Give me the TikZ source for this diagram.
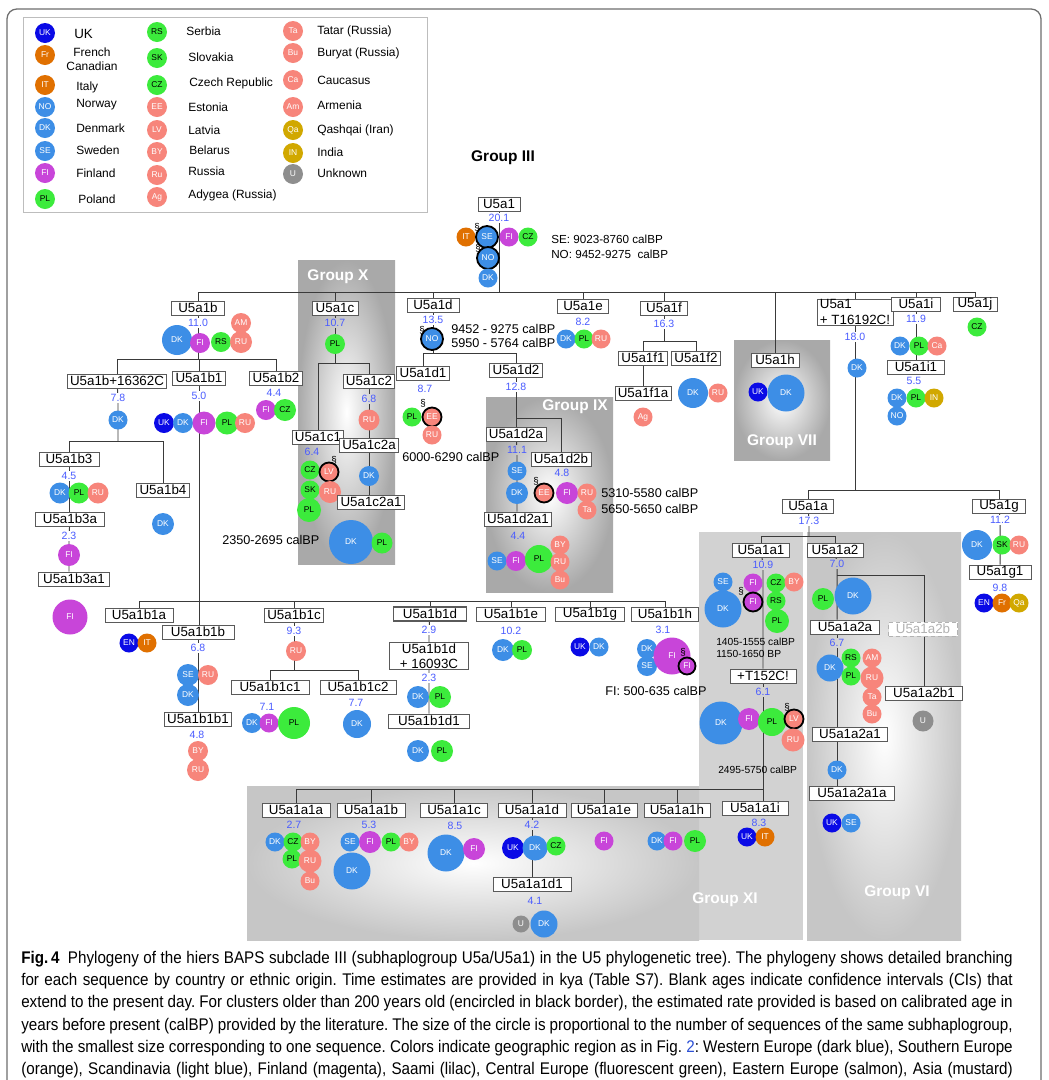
\documentclass[tikz,border=0pt]{standalone}
\usepackage{fontspec}
\setmainfont{Liberation Sans}
\newfontfamily\capfont[FakeStretch=0.90]{Liberation Sans}
\usepackage{xcolor}
\usepackage{tikz}
\definecolor{cWest}{HTML}{0A0AE6}
\definecolor{cSouth}{HTML}{E07000}
\definecolor{cScand}{HTML}{3D8EE6}
\definecolor{cFinn}{HTML}{C845D9}
\definecolor{cCentral}{HTML}{3CEB3C}
\definecolor{cEast}{HTML}{F7857B}
\definecolor{cAsia}{HTML}{D1A800}
\definecolor{cUnk}{HTML}{8E8E8E}
\definecolor{ageBlue}{HTML}{4A5CFF}
\definecolor{linkBlue}{HTML}{2B4FD6}
\definecolor{treeLine}{HTML}{3A3A3A}
\definecolor{boxLine}{HTML}{5A5A5A}
\definecolor{legendLine}{HTML}{BDBDBD}
\definecolor{frameGray}{HTML}{6E6E6E}
\definecolor{grpGray}{HTML}{A9A9A9}
\definecolor{grpLight}{HTML}{C6C6C6}
\definecolor{grpMid}{HTML}{D2D2D2}
\usetikzlibrary{positioning}
\pgfdeclarelayer{shade}
\pgfdeclarelayer{lines}
\pgfsetlayers{shade,lines,main}

\begin{document}
\begin{tikzpicture}[
  x=0.025cm, y=-0.025cm,
  treeline/.style={draw=treeLine, line width=0.7pt},
  hbox/.style={draw=boxLine, fill=white, line width=0.5pt, inner xsep=2pt, inner ysep=0.5pt, minimum height=0.35cm, font=\fontsize{9.5}{10.5}\selectfont},
  boxw/.style={minimum width=#1*0.025cm},
  age/.style={text=ageBlue, inner sep=0.8pt, font=\fontsize{7.5}{8}\selectfont},
  ctry/.style={circle, inner sep=0pt, minimum size=0.475cm, text=white, font=\fontsize{6}{6}\selectfont},
  dia/.style={minimum size=#1*0.025cm},
  westeu/.style={ctry, fill=cWest},
  southeu/.style={ctry, fill=cSouth},
  scand/.style={ctry, fill=cScand},
  finn/.style={ctry, fill=cFinn},
  centeu/.style={ctry, fill=cCentral, text=black},
  easteu/.style={ctry, fill=cEast},
  asia/.style={ctry, fill=cAsia},
  unkn/.style={ctry, fill=cUnk},
  old/.style={draw=black, line width=1.3pt},
  sectmark/.style={inner sep=0pt, font=\fontsize{7}{7}\selectfont},
  calnote/.style={anchor=west, inner sep=0pt, font=\fontsize{9}{10}\selectfont},
  smallnote/.style={anchor=west, inner sep=0pt, font=\fontsize{7.3}{8}\selectfont},
  grouplabel/.style={text=white, font=\bfseries\fontsize{11}{12}\selectfont},
  legtext/.style={anchor=west, inner sep=0pt, font=\fontsize{8.5}{10}\selectfont}
]
\useasboundingbox (0,0) rectangle (1048,1080);

% Legend
\node[westeu, dia=20] (leg-uk) at (45,33) {UK};
\node[legtext, font=\fontsize{9.5}{10}\selectfont] (leg-uk-t) at (74,34) {UK};
\node[southeu, dia=20] (leg-fr) at (45,55) {Fr};
\node[legtext, anchor=center, align=center] (leg-fr-t) at (92,59) {French\\Canadian};
\node[southeu, dia=20] (leg-it) at (45,85) {IT};
\node[legtext] (leg-it-t) at (76,87) {Italy};
\node[scand, dia=20] (leg-no) at (45,107) {NO};
\node[legtext] (leg-no-t) at (76,105) {Norway};
\node[scand, dia=20] (leg-dk) at (45,128) {DK};
\node[legtext] (leg-dk-t) at (76,128) {Denmark};
\node[scand, dia=20] (leg-se) at (45,151) {SE};
\node[legtext] (leg-se-t) at (76,150) {Sweden};
\node[finn, dia=20] (leg-fi) at (45,173) {FI};
\node[legtext] (leg-fi-t) at (76,173) {Finland};
\node[centeu, dia=20] (leg-pl) at (45,199) {PL};
\node[legtext] (leg-pl-t) at (78,199) {Poland};
\node[centeu, dia=20] (leg-rs) at (157,32) {RS};
\node[legtext] (leg-rs-t) at (186,31) {Serbia};
\node[centeu, dia=20] (leg-sk) at (157,58) {SK};
\node[legtext] (leg-sk-t) at (188,57) {Slovakia};
\node[centeu, dia=20] (leg-cz) at (157,85) {CZ};
\node[legtext] (leg-cz-t) at (189,83) {Czech Republic};
\node[easteu, dia=20] (leg-ee) at (157,107) {EE};
\node[legtext] (leg-ee-t) at (188,107) {Estonia};
\node[easteu, dia=20] (leg-lv) at (157,130) {LV};
\node[legtext] (leg-lv-t) at (188,130) {Latvia};
\node[easteu, dia=20] (leg-by) at (157,152) {BY};
\node[legtext] (leg-by-t) at (189,150) {Belarus};
\node[easteu, dia=20] (leg-ru) at (157,175) {Ru};
\node[legtext] (leg-ru-t) at (188,171) {Russia};
\node[easteu, dia=20] (leg-ag) at (157,197) {Ag};
\node[legtext] (leg-ag-t) at (188,195) {Adygea (Russia)};
\node[easteu, dia=20] (leg-ta) at (293,31) {Ta};
\node[legtext] (leg-ta-t) at (317,31) {Tatar (Russia)};
\node[easteu, dia=20] (leg-bu) at (293,53) {Bu};
\node[legtext] (leg-bu-t) at (317,53) {Buryat (Russia)};
\node[easteu, dia=20] (leg-ca) at (293,80) {Ca};
\node[legtext] (leg-ca-t) at (317,80) {Caucasus};
\node[easteu, dia=20] (leg-am) at (293,107) {Am};
\node[legtext] (leg-am-t) at (317,105) {Armenia};
\node[asia, dia=20] (leg-qa) at (293,130) {Qa};
\node[legtext] (leg-qa-t) at (317,130) {Qashqai (Iran)};
\node[asia, dia=20] (leg-in) at (293,153) {IN};
\node[legtext] (leg-in-t) at (317,152) {India};
\node[unkn, dia=20] (leg-u) at (293,174) {U};
\node[legtext] (leg-u-t) at (317,173) {Unknown};

% Root U5a1
\node[font=\bfseries\fontsize{11}{12}\selectfont] (title) at (503,158) {Group III};
\node[hbox, boxw=42] (u5a1) at (499,204) {U5a1};
\node[age] (u5a1-age) at (499,218) {20.1};
\node[southeu] (u5a1-it) at (466,237) {IT};
\node[scand, old, dia=22] (u5a1-se) at (487,237) {SE};
\node[sectmark] (u5a1-s1) at (477,227) {\S};
\node[finn] (u5a1-fi) at (509,237) {FI};
\node[centeu] (u5a1-cz) at (528,237) {CZ};
\node[scand, old, dia=22] (u5a1-no) at (488,258) {NO};
\node[sectmark] (u5a1-s2) at (478,248) {\S};
\node[scand] (u5a1-dk) at (488,278) {DK};
\node[calnote, font=\fontsize{8.3}{9}\selectfont] (u5a1-se-t) at (551,239) {SE: 9023-8760 calBP};
\node[calnote, font=\fontsize{8.3}{9}\selectfont] (u5a1-no-t) at (551,254) {NO: 9452-9275\ \ calBP};
\coordinate (bar1) at (0,292);

% First level subclades
\node[hbox, boxw=53] (u5a1b) at (198,308) {U5a1b};
\node[hbox, boxw=46] (u5a1c) at (335,308) {U5a1c};
\node[hbox, boxw=52] (u5a1d) at (433,305) {U5a1d};
\node[hbox, boxw=51] (u5a1e) at (583,306) {U5a1e};
\node[hbox, boxw=47] (u5a1f) at (664,308) {U5a1f};
\node[hbox, boxw=48] (u5a1h) at (775,360) {U5a1h};
\node[hbox, boxw=73, align=left, font=\fontsize{9.5}{11}\selectfont] (u5a1T) at (855,312) {U5a1\\+ T16192C!};
\node[hbox, boxw=49] (u5a1i) at (916,304) {U5a1i};
\node[hbox, boxw=44] (u5a1j) at (975,304) {U5a1j};

% U5a1b
\node[age] (u5a1b-age) at (198,323) {11.0};
\node[scand, dia=30] (u5a1b-dk) at (177,340) {DK};
\node[finn, dia=20] (u5a1b-fi) at (200,343) {FI};
\node[centeu, dia=20] (u5a1b-rs) at (221,342) {RS};
\node[easteu, dia=20] (u5a1b-am) at (241,323) {AM};
\node[easteu, dia=22] (u5a1b-ru) at (241,342) {RU};
\coordinate (bar2) at (0,359);
\node[hbox, boxw=92] (u5a1bX) at (117,381) {U5a1b+16362C};
\node[age] (u5a1bX-age) at (118,398) {7.8};
\node[scand] (u5a1bX-dk) at (118,420) {DK};
\coordinate (bar3) at (0,441);
\node[hbox, boxw=60] (u5a1b3) at (69,459) {U5a1b3};
\node[age] (u5a1b3-age) at (69,476) {4.5};
\node[scand, dia=21] (u5a1b3-dk) at (60,493) {DK};
\node[centeu, dia=21] (u5a1b3-pl) at (79,493) {PL};
\node[easteu, dia=21] (u5a1b3-ru) at (98,493) {RU};
\node[hbox, boxw=69] (u5a1b3a) at (70,519) {U5a1b3a};
\node[age] (u5a1b3a-age) at (69,536) {2.3};
\node[finn, dia=22] (u5a1b3a-fi) at (69,555) {FI};
\node[hbox, boxw=71] (u5a1b3a1) at (74,579) {U5a1b3a1};
\node[finn, dia=35] (u5a1b3a1-fi) at (70,617) {FI};
\node[hbox, boxw=47] (u5a1b4) at (163,490) {U5a1b4};
\node[scand, dia=22] (u5a1b4-dk) at (163,524) {DK};
\node[hbox, boxw=47] (u5a1b1) at (199,378) {U5a1b1};
\node[age] (u5a1b1-age) at (199,396) {5.0};
\node[westeu, dia=20] (u5a1b1-uk) at (164,423) {UK};
\node[scand, dia=20] (u5a1b1-dk) at (183,423) {DK};
\node[finn, dia=23] (u5a1b1-fi) at (204,423) {FI};
\node[centeu, dia=23] (u5a1b1-pl) at (227,423) {PL};
\node[easteu, dia=20] (u5a1b1-ru) at (245,423) {RU};
\node[hbox, boxw=45] (u5a1b2) at (276,378) {U5a1b2};
\node[age] (u5a1b2-age) at (274,393) {4.4};
\node[finn, dia=20] (u5a1b2-fi) at (266,410) {FI};
\node[centeu, dia=22] (u5a1b2-cz) at (285,410) {CZ};

% U5a1b1 subclades
\coordinate (bar4) at (0,601);
\node[hbox, boxw=68] (u5a1b1a) at (139,615) {U5a1b1a};
\node[westeu] (u5a1b1a-en) at (129,643) {EN};
\node[southeu] (u5a1b1a-it) at (147,643) {IT};
\node[hbox, boxw=72] (u5a1b1b) at (198,632) {U5a1b1b};
\node[age] (u5a1b1b-age) at (198,648) {6.8};
\node[scand, dia=22] (u5a1b1b-se) at (188,675) {SE};
\node[easteu, dia=20] (u5a1b1b-ru) at (208,675) {RU};
\node[scand, dia=22] (u5a1b1b-dk) at (188,695) {DK};
\node[hbox, boxw=63] (u5a1b1b1) at (198,719) {U5a1b1b1};
\node[age] (u5a1b1b1-age) at (197,735) {4.8};
\node[easteu, dia=20] (u5a1b1b1-by) at (198,751) {BY};
\node[easteu, dia=22] (u5a1b1b1-ru) at (198,770) {RU};
\node[hbox, boxw=51] (u5a1b1c) at (294,615) {U5a1b1c};
\node[age] (u5a1b1c-age) at (294,631) {9.3};
\node[easteu, dia=20] (u5a1b1c-ru) at (296,651) {RU};
\coordinate (bar5) at (0,670);
\node[hbox, boxw=78] (u5a1b1c1) at (270,687) {U5a1b1c1};
\node[age] (u5a1b1c1-age) at (267,707) {7.1};
\node[scand, dia=20] (u5a1b1c1-dk) at (252,723) {DK};
\node[finn, dia=19] (u5a1b1c1-fi) at (269,723) {FI};
\node[centeu, dia=32] (u5a1b1c1-pl) at (294,723) {PL};
\node[hbox, boxw=76] (u5a1b1c2) at (358,687) {U5a1b1c2};
\node[age] (u5a1b1c2-age) at (356,703) {7.7};
\node[scand, dia=28] (u5a1b1c2-dk) at (357,724) {DK};
\node[hbox, boxw=73, line width=0.8pt] (u5a1b1d) at (430,614) {U5a1b1d};
\node[age] (u5a1b1d-age) at (429,630) {2.9};
\node[hbox, boxw=79, align=center, font=\fontsize{9.5}{11}\selectfont] (u5a1b1dX) at (429,656) {U5a1b1d\\+ 16093C};
\node[age] (u5a1b1dX-age) at (429,678) {2.3};
\node[scand, dia=22] (u5a1b1dX-dk) at (418,697) {DK};
\node[centeu, dia=22] (u5a1b1dX-pl) at (440,697) {PL};
\node[hbox, boxw=81] (u5a1b1d1) at (429,721) {U5a1b1d1};
\node[scand, dia=22] (u5a1b1d1-dk) at (418,751) {DK};
\node[centeu, dia=22] (u5a1b1d1-pl) at (442,751) {PL};
\node[hbox, boxw=69] (u5a1b1e) at (511,614) {U5a1b1e};
\node[age] (u5a1b1e-age) at (511,631) {10.2};
\node[scand, dia=22] (u5a1b1e-dk) at (503,650) {DK};
\node[centeu, dia=20] (u5a1b1e-pl) at (522,650) {PL};
\node[hbox, boxw=69] (u5a1b1g) at (590,614) {U5a1b1g};
\node[westeu] (u5a1b1g-uk) at (580,647) {UK};
\node[scand] (u5a1b1g-dk) at (599,647) {DK};
\node[hbox, boxw=67] (u5a1b1h) at (665,614) {U5a1b1h};
\node[age] (u5a1b1h-age) at (663,630) {3.1};
\node[scand, dia=20] (u5a1b1h-dk) at (647,649) {DK};
\node[scand, dia=20] (u5a1b1h-se) at (647,666) {SE};
\node[finn, dia=37] (u5a1b1h-fi) at (672,656) {FI};
\node[finn, old, dia=17] (u5a1b1h-fi2) at (687,666) {FI};
\node[sectmark] (u5a1b1h-s) at (683,652) {\S};
\node[calnote] (u5a1b1h-t) at (605,691) {FI: 500-635 calBP};

% U5a1c (Group X)
\node[age] (u5a1c-age) at (335,323) {10.7};
\node[centeu, dia=20] (u5a1c-pl) at (335,344) {PL};
\coordinate (bar6) at (0,363);
\node[hbox, boxw=45] (u5a1c1) at (318,437) {U5a1c1};
\node[age] (u5a1c1-age) at (312,452) {6.4};
\node[centeu] (u5a1c1-cz) at (310,470) {CZ};
\node[easteu, old] (u5a1c1-lv) at (329,472) {LV};
\node[sectmark] (u5a1c1-s) at (334,460) {\S};
\node[centeu] (u5a1c1-sk) at (310,490) {SK};
\node[easteu, dia=22] (u5a1c1-ru) at (330,492) {RU};
\node[centeu, dia=24] (u5a1c1-pl) at (309,510) {PL};
\node[calnote] (u5a1c1-t) at (222,540) {2350-2695 calBP};
\node[hbox, boxw=45] (u5a1c2) at (369,381) {U5a1c2};
\node[age] (u5a1c2-age) at (369,399) {6.8};
\node[easteu, dia=21] (u5a1c2-ru) at (369,420) {RU};
\node[hbox, boxw=51] (u5a1c2a) at (369,445) {U5a1c2a};
\node[scand, dia=20] (u5a1c2a-dk) at (369,476) {DK};
\node[hbox, boxw=59] (u5a1c2a1) at (371,502) {U5a1c2a1};
\node[scand, dia=44] (u5a1c2a1-dk) at (351,542) {DK};
\node[centeu, dia=21] (u5a1c2a1-pl) at (382,543) {PL};

% U5a1d
\node[age] (u5a1d-age) at (433,320) {13.5};
\node[scand, old, dia=22] (u5a1d-no) at (432,339) {NO};
\node[sectmark] (u5a1d-s) at (422,330) {\S};
\node[calnote] (u5a1d-t1) at (451,329) {9452 - 9275 calBP};
\node[calnote] (u5a1d-t2) at (451,343) {5950 - 5764 calBP};
\coordinate (bar7) at (0,353);
\node[hbox, boxw=50] (u5a1d1) at (423,373) {U5a1d1};
\node[age] (u5a1d1-age) at (425,389) {8.7};
\node[centeu] (u5a1d1-pl) at (412,417) {PL};
\node[easteu, old] (u5a1d1-ee) at (432,417) {EE};
\node[sectmark] (u5a1d1-s) at (423,403) {\S};
\node[easteu] (u5a1d1-ru) at (432,435) {RU};
\node[calnote] (u5a1d1-t) at (402,457) {6000-6290 calBP};
\node[hbox, boxw=48] (u5a1d2) at (516,370) {U5a1d2};
\node[age] (u5a1d2-age) at (516,387) {12.8};
\coordinate (bar8) at (0,418);
\node[hbox, boxw=50] (u5a1d2a) at (516,434) {U5a1d2a};
\node[age] (u5a1d2a-age) at (517,450) {11.1};
\node[scand] (u5a1d2a-se) at (517,471) {SE};
\node[scand, dia=22] (u5a1d2a-dk) at (517,493) {DK};
\node[hbox, boxw=56] (u5a1d2a1) at (518,519) {U5a1d2a1};
\node[age] (u5a1d2a1-age) at (518,536) {4.4};
\node[scand] (u5a1d2a1-se) at (497,561) {SE};
\node[finn, dia=20] (u5a1d2a1-fi) at (516,561) {FI};
\node[centeu, dia=28] (u5a1d2a1-pl) at (539,559) {PL};
\node[easteu] (u5a1d2a1-by) at (560,545) {BY};
\node[easteu] (u5a1d2a1-ru) at (560,562) {RU};
\node[easteu] (u5a1d2a1-bu) at (560,580) {Bu};
\node[hbox, boxw=50] (u5a1d2b) at (561,459) {U5a1d2b};
\node[age] (u5a1d2b-age) at (562,473) {4.8};
\node[easteu, old] (u5a1d2b-ee) at (544,493) {EE};
\node[sectmark] (u5a1d2b-s) at (536,481) {\S};
\node[finn, dia=22] (u5a1d2b-fi) at (567,493) {FI};
\node[easteu] (u5a1d2b-ru) at (587,493) {RU};
\node[easteu] (u5a1d2b-ta) at (587,510) {Ta};
\node[calnote] (u5a1d2b-t1) at (601,493) {5310-5580 calBP};
\node[calnote] (u5a1d2b-t2) at (601,509) {5650-5650 calBP};

% U5a1e and U5a1f
\node[age] (u5a1e-age) at (583,322) {8.2};
\node[scand] (u5a1e-dk) at (566,339) {DK};
\node[centeu] (u5a1e-pl) at (584,339) {PL};
\node[easteu] (u5a1e-ru) at (601,339) {RU};
\node[age] (u5a1f-age) at (664,324) {16.3};
\coordinate (bar9) at (0,341);
\node[hbox, boxw=48] (u5a1f1) at (643,358) {U5a1f1};
\node[hbox, boxw=45] (u5a1f2) at (696,358) {U5a1f2};
\node[hbox, boxw=47] (u5a1f1a) at (643,393) {U5a1f1a};
\node[easteu] (u5a1f1a-ag) at (643,417) {Ag};
\node[scand, dia=30] (u5a1f2-dk) at (693,393) {DK};
\node[easteu] (u5a1f2-ru) at (718,393) {RU};

% U5a1h (Group VII)
\node[westeu] (u5a1h-uk) at (758,392) {UK};
\node[scand, dia=37] (u5a1h-dk) at (786,393) {DK};

% U5a1+T16192C, U5a1i, U5a1j
\node[age] (u5a1T-age) at (855,337) {18.0};
\node[scand] (u5a1T-dk) at (857,368) {DK};
\coordinate (bar10) at (0,490);
\node[age] (u5a1i-age) at (916,319) {11.9};
\node[scand] (u5a1i-dk) at (900,346) {DK};
\node[centeu] (u5a1i-pl) at (919,346) {PL};
\node[easteu] (u5a1i-ca) at (937,346) {Ca};
\node[hbox, boxw=57] (u5a1i1) at (916,367) {U5a1i1};
\node[age] (u5a1i1-age) at (914,381) {5.5};
\node[scand] (u5a1i1-dk) at (897,398) {DK};
\node[centeu] (u5a1i1-pl) at (916,398) {PL};
\node[asia] (u5a1i1-in) at (934,398) {IN};
\node[scand] (u5a1i1-no) at (897,416) {NO};
\node[centeu] (u5a1j-cz) at (977,327) {CZ};

% U5a1a and U5a1g
\node[hbox, boxw=51] (u5a1a) at (808,506) {U5a1a};
\node[age] (u5a1a-age) at (809,521) {17.3};
\coordinate (bar11) at (0,536);
\node[hbox, boxw=53] (u5a1g) at (999,506) {U5a1g};
\node[age] (u5a1g-age) at (1000,520) {11.2};
\node[scand, dia=30] (u5a1g-dk) at (977,545) {DK};
\node[centeu] (u5a1g-sk) at (1002,545) {SK};
\node[easteu] (u5a1g-ru) at (1019,545) {RU};
\node[hbox, boxw=62] (u5a1g1) at (1000,572) {U5a1g1};
\node[age] (u5a1g1-age) at (1000,588) {9.8};
\node[westeu] (u5a1g1-en) at (984,603) {EN};
\node[southeu] (u5a1g1-fr) at (1002,603) {Fr};
\node[asia] (u5a1g1-qa) at (1019,603) {Qa};

% U5a1a1 (Group XI)
\node[hbox, boxw=57] (u5a1a1) at (761,550) {U5a1a1};
\node[age] (u5a1a1-age) at (763,565) {10.9};
\node[scand] (u5a1a1-se) at (723,582) {SE};
\node[scand, dia=37] (u5a1a1-dk) at (723,609) {DK};
\node[finn] (u5a1a1-fi) at (753,583) {FI};
\node[finn, old] (u5a1a1-fi2) at (753,602) {FI};
\node[sectmark] (u5a1a1-s) at (741,591) {\S};
\node[centeu] (u5a1a1-cz) at (776,583) {CZ};
\node[centeu] (u5a1a1-rs) at (776,601) {RS};
\node[centeu, dia=24] (u5a1a1-pl) at (777,621) {PL};
\node[easteu] (u5a1a1-by) at (794,582) {BY};
\node[smallnote] (u5a1a1-t1) at (716,642) {1405-1555 calBP};
\node[smallnote] (u5a1a1-t2) at (716,654) {1150-1650 BP};
\node[hbox, boxw=66] (t152) at (763,676) {+T152C!};
\node[age] (t152-age) at (763,692) {6.1};
\node[scand, dia=43] (t152-dk) at (721,723) {DK};
\node[finn, dia=22] (t152-fi) at (749,719) {FI};
\node[centeu, dia=28] (t152-pl) at (772,722) {PL};
\node[easteu, old] (t152-lv) at (794,719) {LV};
\node[sectmark] (t152-s) at (787,707) {\S};
\node[easteu, dia=23] (t152-ru) at (793,740) {RU};
\node[smallnote] (t152-t) at (718,770) {2495-5750 calBP};
\coordinate (bar12) at (0,789);
\node[hbox, boxw=66] (u5a1a1i) at (755,808) {U5a1a1i};
\node[age] (u5a1a1i-age) at (759,823) {8.3};
\node[westeu] (u5a1a1i-uk) at (747,837) {UK};
\node[southeu] (u5a1a1i-it) at (765,837) {IT};
\node[hbox, boxw=68] (u5a1a1a) at (296,810) {U5a1a1a};
\node[age] (u5a1a1a-age) at (294,825) {2.7};
\node[scand] (u5a1a1a-dk) at (275,842) {DK};
\node[centeu] (u5a1a1a-cz) at (293,842) {CZ};
\node[easteu] (u5a1a1a-by) at (310,842) {BY};
\node[centeu] (u5a1a1a-pl) at (292,859) {PL};
\node[easteu, dia=23] (u5a1a1a-ru) at (310,861) {RU};
\node[easteu] (u5a1a1a-bu) at (310,881) {Bu};
\node[hbox, boxw=68] (u5a1a1b) at (371,810) {U5a1a1b};
\node[age] (u5a1a1b-age) at (369,825) {5.3};
\node[scand] (u5a1a1b-se) at (350,842) {SE};
\node[finn, dia=22] (u5a1a1b-fi) at (370,842) {FI};
\node[centeu] (u5a1a1b-pl) at (391,842) {PL};
\node[easteu] (u5a1a1b-by) at (409,842) {BY};
\node[scand, dia=37] (u5a1a1b-dk) at (352,871) {DK};
\node[hbox, boxw=67] (u5a1a1c) at (454,810) {U5a1a1c};
\node[age] (u5a1a1c-age) at (455,826) {8.5};
\node[scand, dia=37] (u5a1a1c-dk) at (446,853) {DK};
\node[finn, dia=22] (u5a1a1c-fi) at (474,849) {FI};
\node[hbox, boxw=68] (u5a1a1d) at (532,810) {U5a1a1d};
\node[age] (u5a1a1d-age) at (532,825) {4.2};
\node[westeu, dia=22] (u5a1a1d-uk) at (513,848) {UK};
\node[scand, dia=25] (u5a1a1d-dk) at (535,848) {DK};
\node[centeu] (u5a1a1d-cz) at (556,846) {CZ};
\node[hbox, boxw=78] (u5a1a1d1) at (532,884) {U5a1a1d1};
\node[age] (u5a1a1d1-age) at (535,901) {4.1};
\node[unkn, dia=17] (u5a1a1d1-u) at (521,924) {U};
\node[scand, dia=27] (u5a1a1d1-dk) at (544,924) {DK};
\node[hbox, boxw=66] (u5a1a1e) at (604,810) {U5a1a1e};
\node[finn] (u5a1a1e-fi) at (604,841) {FI};
\node[hbox, boxw=66] (u5a1a1h) at (677,810) {U5a1a1h};
\node[scand] (u5a1a1h-dk) at (657,841) {DK};
\node[finn] (u5a1a1h-fi) at (673,841) {FI};
\node[centeu, dia=22] (u5a1a1h-pl) at (695,841) {PL};

% U5a1a2 (Group VI)
\node[hbox, boxw=56] (u5a1a2) at (835,550) {U5a1a2};
\node[age] (u5a1a2-age) at (837,564) {7.0};
\coordinate (bar13) at (0,575);
\node[centeu, dia=22] (u5a1a2-pl) at (823,599) {PL};
\node[scand, dia=37] (u5a1a2-dk) at (853,596) {DK};
\node[hbox, boxw=69] (u5a1a2a) at (845,627) {U5a1a2a};
\node[age] (u5a1a2a-age) at (837,643) {6.7};
\node[scand, dia=27] (u5a1a2a-dk) at (830,668) {DK};
\node[centeu] (u5a1a2a-rs) at (851,658) {RS};
\node[centeu] (u5a1a2a-pl) at (851,676) {PL};
\node[easteu] (u5a1a2a-am) at (872,658) {AM};
\node[easteu, dia=23] (u5a1a2a-ru) at (872,678) {RU};
\node[easteu] (u5a1a2a-ta) at (872,697) {Ta};
\node[easteu] (u5a1a2a-bu) at (872,714) {Bu};
\node[hbox, boxw=75] (u5a1a2a1) at (850,734) {U5a1a2a1};
\node[scand] (u5a1a2a1-dk) at (837,770) {DK};
\node[hbox, boxw=85] (u5a1a2a1a) at (852,793) {U5a1a2a1a};
\node[westeu] (u5a1a2a1a-uk) at (832,823) {UK};
\node[scand] (u5a1a2a1a-se) at (851,823) {SE};
\node[hbox, boxw=69, draw=gray!60, densely dashed, text=gray!60] (u5a1a2b) at (923,629) {U5a1a2b};
\node[hbox, boxw=77] (u5a1a2b1) at (924,693) {U5a1a2b1};
\node[unkn, dia=21] (u5a1a2b1-u) at (923,721) {U};

% Group labels
\node[grouplabel] (groupX) at (338,277) {Group X};
\node[grouplabel] (groupIX) at (575,407) {Group IX};
\node[grouplabel] (groupVII) at (782,442) {Group VII};
\node[grouplabel] (groupXI) at (725,900) {Group XI};
\node[grouplabel] (groupVI) at (897,893) {Group VI};

% Caption
\node[anchor=north west, inner sep=0pt, align=left, font=\capfont\fontsize{12}{15.8}\selectfont\frenchspacing] (caption) at (21,951) {%
\makebox[24.78cm][s]{\textbf{Fig.\,4}\enspace Phylogeny of the hiers BAPS subclade III (subhaplogroup U5a/U5a1) in the U5 phylogenetic tree). The phylogeny shows detailed branching}\\
\makebox[24.78cm][s]{for each sequence by country or ethnic origin. Time estimates are provided in kya (Table S7). Blank ages indicate confidence intervals (CIs) that}\\
\makebox[24.78cm][s]{extend to the present day. For clusters older than 200 years old (encircled in black border), the estimated rate provided is based on calibrated age in}\\
\makebox[24.78cm][s]{years before present (calBP) provided by the literature. The size of the circle is proportional to the number of sequences of the same subhaplogroup,}\\
\makebox[24.78cm][s]{with the smallest size corresponding to one sequence. Colors indicate geographic region as in Fig.~\textcolor{linkBlue}{2}: Western Europe (dark blue), Southern Europe}\\
\makebox[24.78cm][s]{(orange), Scandinavia (light blue), Finland (magenta), Saami (lilac), Central Europe (fluorescent green), Eastern Europe (salmon), Asia (mustard)}};

% Frames and shaded groups
\begin{pgfonlayer}{shade}
\fill[white] (0,0) rectangle (1048,1080);
\draw[frameGray, line width=0.9pt, rounded corners=7pt] (7,1100) -- (7,9) -- (1041,9) -- (1041,1100);
\draw[legendLine, line width=0.6pt] (23,17) rectangle (427,212);
\shade[inner color=white, outer color=grpGray] (298,260) rectangle (395,564);
\shade[inner color=white, outer color=grpGray] (486,397) rectangle (613,592);
\shade[inner color=white, outer color=grpGray] (734,340) rectangle (830,460);
\fill[grpMid] (699,532) rectangle (803,940);
\shade[inner color=white, outer color=grpLight] (247,786) rectangle (699,940);
\shade[inner color=white, outer color=grpLight] (807,532) rectangle (961,940);
\end{pgfonlayer}

% Branches
\begin{pgfonlayer}{lines}
\draw[treeline] (u5a1) -- (u5a1-age) -- (u5a1-age |- bar1);
\draw[treeline] (u5a1b |- bar1) -- (u5a1j |- bar1);
\draw[treeline] (u5a1b |- bar1) -- (u5a1b);
\draw[treeline] (u5a1c |- bar1) -- (u5a1c);
\draw[treeline] (u5a1d |- bar1) -- (u5a1d);
\draw[treeline] (u5a1e |- bar1) -- (u5a1e);
\draw[treeline] (u5a1f |- bar1) -- (u5a1f);
\draw[treeline] (u5a1h |- bar1) -- (u5a1h);
\draw[treeline] (u5a1T |- bar1) -- (u5a1T);
\draw[treeline] (u5a1i |- bar1) -- (u5a1i);
\draw[treeline] (u5a1j |- bar1) -- (u5a1j);
% U5a1b
\draw[treeline] (u5a1b) -- (u5a1b-age) -- (u5a1b-age |- bar2);
\draw[treeline] (u5a1bX |- bar2) -- (u5a1b2 |- bar2);
\draw[treeline] (u5a1bX |- bar2) -- (u5a1bX);
\draw[treeline] (u5a1b1 |- bar2) -- (u5a1b1);
\draw[treeline] (u5a1b2 |- bar2) -- (u5a1b2);
\draw[treeline] (u5a1bX) -- (u5a1bX-age) -- (u5a1bX-age |- bar3);
\draw[treeline] (u5a1b3 |- bar3) -- (u5a1b4 |- bar3);
\draw[treeline] (u5a1b3 |- bar3) -- (u5a1b3);
\draw[treeline] (u5a1b4 |- bar3) -- (u5a1b4);
\draw[treeline] (u5a1b3) -- (u5a1b3-age) -- (u5a1b3-age |- u5a1b3a.north);
\draw[treeline] (u5a1b3a) -- (u5a1b3a-age) -- (u5a1b3a-age |- u5a1b3a1.north);
\draw[treeline] (u5a1b1) -- (u5a1b1-age) -- (u5a1b1-age |- u5a1b1b.north);
\draw[treeline] (u5a1b1a |- bar4) -- (u5a1b1h |- bar4);
\draw[treeline] (u5a1b1a |- bar4) -- (u5a1b1a);
\draw[treeline] (u5a1b1c |- bar4) -- (u5a1b1c);
\draw[treeline] (u5a1b1d |- bar4) -- (u5a1b1d);
\draw[treeline] (u5a1b1e |- bar4) -- (u5a1b1e);
\draw[treeline] (u5a1b1g |- bar4) -- (u5a1b1g);
\draw[treeline] (u5a1b1h |- bar4) -- (u5a1b1h);
\draw[treeline] (u5a1b1b) -- (u5a1b1b-age) -- (u5a1b1b-age |- u5a1b1b1.north);
\draw[treeline] (u5a1b1c) -- (u5a1b1c-age) -- (u5a1b1c-age |- bar5);
\draw[treeline] (u5a1b1c1 |- bar5) -- (u5a1b1c2 |- bar5);
\draw[treeline] (u5a1b1c1 |- bar5) -- (u5a1b1c1);
\draw[treeline] (u5a1b1c2 |- bar5) -- (u5a1b1c2);
\draw[treeline] (u5a1b1d) -- (u5a1b1d-age) -- (u5a1b1dX) -- (u5a1b1dX-age) -- (u5a1b1dX-age |- u5a1b1d1.north);
% U5a1c
\draw[treeline] (u5a1c) -- (u5a1c-age) -- (u5a1c-age |- bar6);
\draw[treeline] (u5a1c1 |- bar6) -- (u5a1c2 |- bar6);
\draw[treeline] (u5a1c1 |- bar6) -- (u5a1c1);
\draw[treeline] (u5a1c2 |- bar6) -- (u5a1c2);
\draw[treeline] (u5a1c2) -- (u5a1c2-age) -- (u5a1c2-age |- u5a1c2a1.north);
% U5a1d
\draw[treeline] (u5a1d) -- (u5a1d-age) -- (u5a1d-age |- bar7);
\draw[treeline] (u5a1d1 |- bar7) -- (u5a1d2 |- bar7);
\draw[treeline] (u5a1d1 |- bar7) -- (u5a1d1);
\draw[treeline] (u5a1d2 |- bar7) -- (u5a1d2);
\draw[treeline] (u5a1d2) -- (u5a1d2-age) -- (u5a1d2-age |- u5a1d2a.north);
\draw[treeline] (u5a1d2-age |- bar8) -- (u5a1d2b |- bar8) -- (u5a1d2b);
\draw[treeline] (u5a1d2a) -- (u5a1d2a-age) -- (u5a1d2a-age |- u5a1d2a1.north);
% U5a1f
\draw[treeline] (u5a1f) -- (u5a1f-age) -- (u5a1f-age |- bar9);
\draw[treeline] (u5a1f1 |- bar9) -- (u5a1f2 |- bar9);
\draw[treeline] (u5a1f1 |- bar9) -- (u5a1f1);
\draw[treeline] (u5a1f2 |- bar9) -- (u5a1f2);
\draw[treeline] (u5a1f1) -- (u5a1f1a);
% U5a1+T16192C
\draw[treeline] (u5a1T) -- (u5a1T-age) -- (u5a1T-age |- bar10);
\draw[treeline] (u5a1a |- bar10) -- (u5a1g |- bar10);
\draw[treeline] (u5a1a |- bar10) -- (u5a1a);
\draw[treeline] (u5a1g |- bar10) -- (u5a1g);
\draw[treeline] (u5a1i) -- (u5a1i-age) -- (u5a1i-age |- u5a1i1.north);
\draw[treeline] (u5a1g) -- (u5a1g-age) -- (u5a1g-age |- u5a1g1.north);
% U5a1a
\draw[treeline] (u5a1a) -- (u5a1a-age) -- (u5a1a-age |- bar11);
\draw[treeline] (u5a1a1 |- bar11) -- (u5a1a2 |- bar11);
\draw[treeline] (u5a1a1 |- bar11) -- (u5a1a1);
\draw[treeline] (u5a1a2 |- bar11) -- (u5a1a2);
\draw[treeline] (u5a1a1) -- (u5a1a1-age) -- (u5a1a1-age |- t152.north);
\draw[treeline] (t152) -- (t152-age) -- (t152-age |- u5a1a1i.north);
\draw[treeline] (u5a1a1a |- bar12) -- (t152-age |- bar12);
\draw[treeline] (u5a1a1a |- bar12) -- (u5a1a1a);
\draw[treeline] (u5a1a1b |- bar12) -- (u5a1a1b);
\draw[treeline] (u5a1a1c |- bar12) -- (u5a1a1c);
\draw[treeline] (u5a1a1d |- bar12) -- (u5a1a1d);
\draw[treeline] (u5a1a1e |- bar12) -- (u5a1a1e);
\draw[treeline] (u5a1a1h |- bar12) -- (u5a1a1h);
\draw[treeline] (u5a1a1d) -- (u5a1a1d-age) -- (u5a1a1d-age |- u5a1a1d1.north);
\draw[treeline] (u5a1a2) -- (u5a1a2-age) -- (u5a1a2-age |- u5a1a2a.north);
\draw[treeline] (u5a1a2-age |- bar13) -- (u5a1a2b1 |- bar13) -- (u5a1a2b1);
\draw[treeline] (u5a1a2a-age |- u5a1a2a.south) -- (u5a1a2a-age) -- (u5a1a2a-age |- u5a1a2a1a.north);
\end{pgfonlayer}

\end{tikzpicture}
\end{document}
